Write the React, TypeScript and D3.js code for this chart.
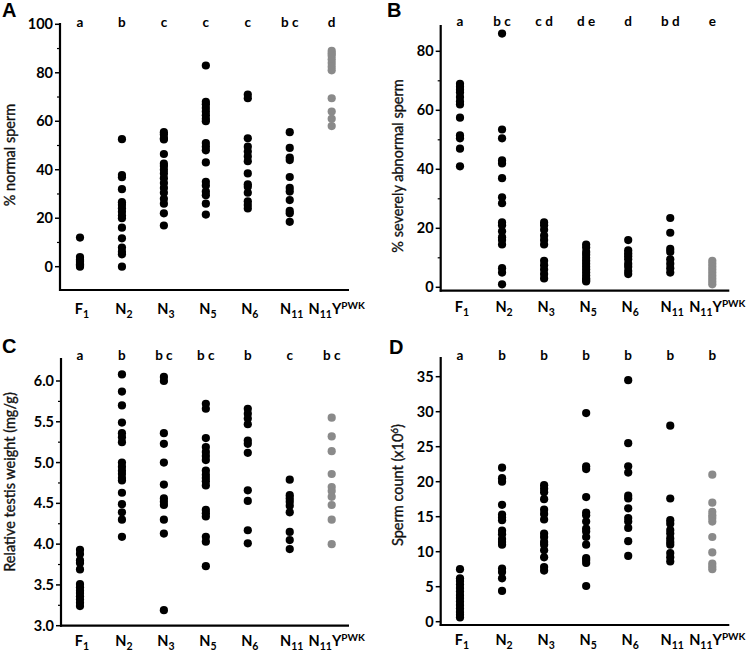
import React from "react";
import * as d3 from "d3";

// ---------- DATA ----------
const categories = ["F1", "N2", "N3", "N5", "N6", "N11", "N11YPWK"];
const catBase = ["F", "N", "N", "N", "N", "N", "N"];
const catSub = ["1", "2", "3", "5", "6", "11", "11"];
const catTail = ["", "", "", "", "", "", "Y"];
const catSup = ["", "", "", "", "", "", "PWK"];

const lettersA = ["a", "b", "c", "c", "c", "b c", "d"];
const lettersB = ["a", "b c", "c d", "d e", "d", "b d", "e"];
const lettersC = ["a", "b", "b c", "b c", "b", "c", "b c"];
const lettersD = ["a", "b", "b", "b", "b", "b", "b"];

const normalSperm = [
  [12, 4, 3, 2.5, 2, 1.5, 1, 0.5, 0],
  [52.6, 37.8, 36.9, 32, 26.6, 25.5, 24.1, 22.7, 21.1, 20, 16.1, 11.7, 7.9, 6.2, 5.1, 0],
  [55.5, 54.5, 53, 52.5, 46.5, 42.5, 41.5, 40, 38.5, 36.5, 34.5, 32.5, 30.5, 28, 26, 22, 17],
  [83, 68, 67, 65.5, 64, 62.5, 61, 60, 51, 49.5, 48, 43, 35, 33.5, 31, 29.5, 26, 21.5],
  [71, 69.5, 53, 49.5, 47.5, 45.5, 43.5, 38.5, 34, 33, 30.5, 27, 25.5, 24],
  [55.5, 49, 45, 44, 37, 32.5, 31, 27.5, 23, 22, 18.5],
  [89, 88, 87, 85.5, 84, 82.5, 81, 69.5, 64, 61, 58],
];

const abnormalSperm = [
  [69, 68, 67, 66, 64.5, 63, 62, 57.5, 51.5, 50.5, 47, 41],
  [86, 53.5, 50.5, 43, 42, 37, 30.5, 28.5, 22, 21, 19, 17, 16, 14.5, 6.5, 5, 1],
  [22, 21, 19.5, 17.5, 16, 14.5, 9, 7.5, 6, 4.5, 3],
  [14.5, 13.5, 12, 11, 10, 9, 8, 7, 6, 5, 4, 3, 2.5, 2],
  [16, 12.5, 11.5, 10.5, 9.5, 8, 7, 5.5, 4.5],
  [23.5, 18.5, 13, 12, 9.5, 8, 6.5, 5],
  [9, 8, 7, 6, 5, 4, 3, 2, 1],
];

const testisWeight = [
  [3.93, 3.88, 3.8, 3.77, 3.69, 3.51, 3.47, 3.43, 3.4, 3.36, 3.32, 3.28, 3.24],
  [6.08, 5.87, 5.7, 5.49, 5.36, 5.31, 5.25, 5.0, 4.95, 4.9, 4.86, 4.81, 4.78, 4.63, 4.49, 4.39, 4.3, 4.09],
  [6.05, 6.0, 5.36, 5.23, 5.0, 4.73, 4.56, 4.52, 4.48, 4.3, 4.13, 3.19],
  [5.72, 5.66, 5.3, 5.19, 5.13, 5.08, 5.03, 4.9, 4.85, 4.81, 4.77, 4.72, 4.42, 4.38, 4.34, 4.09, 4.03, 3.73],
  [5.66, 5.6, 5.54, 5.47, 5.27, 5.23, 5.12, 4.66, 4.53, 4.17, 4.01],
  [4.79, 4.6, 4.56, 4.52, 4.47, 4.39, 4.15, 4.05, 3.94],
  [5.55, 5.32, 5.14, 4.86, 4.7, 4.65, 4.58, 4.48, 4.3, 4.0],
];

const spermCount = [
  [7.5, 6.2, 5.8, 5.3, 4.8, 4.3, 3.8, 3.4, 2.9, 2.4, 1.9, 1.4, 1.0, 0.6],
  [22, 20.5, 20, 16.7, 15.3, 14.9, 14.5, 13, 12.5, 11.8, 11.4, 11, 7.6, 7.1, 6.2, 4.4],
  [19.5, 19, 18.5, 17.5, 16, 15.4, 14.6, 12.6, 12.1, 11.4, 11, 10.2, 9.2, 7.8, 7.3],
  [29.8, 22.2, 21.8, 17.8, 15.6, 15.2, 14.3, 13.3, 12.9, 12.1, 11, 9.1, 8.8, 8.4, 5.1],
  [34.5, 25.5, 22.2, 21.3, 18, 17.6, 16.2, 14.8, 14.3, 13.4, 11.5, 9.4],
  [28, 17.6, 14.5, 14, 13.1, 12.6, 11.9, 11.4, 11, 9.8, 9.2, 8.6],
  [21, 17, 15.7, 15.2, 14.8, 14.3, 12.1, 9.9, 8.3, 7.9, 7.5],
];

const ticksA = [0, 20, 40, 60, 80, 100];
const minorA = [10, 30, 50, 70, 90];
const ticksB = [0, 20, 40, 60, 80];
const minorB = [10, 30, 50, 70];
const ticksC = [3.0, 3.5, 4.0, 4.5, 5.0, 5.5, 6.0];
const minorC = [3.25, 3.75, 4.25, 4.75, 5.25, 5.75];
const ticksD = [0, 5, 10, 15, 20, 25, 30, 35];
const minorD: number[] = [];

// ---------- LAYOUT ----------
const FONT = "Lato, 'Open Sans', sans-serif";
const BLACK = "#000";
const GRAY = "#8a8a8a";

type Panel = {
  letter: string;
  letterX: number;
  letterY: number;
  data: number[][];
  sig: string[];
  ticks: number[];
  minor: number[];
  fmt: (d: number) => string;
  v0: number; p0: number; v1: number; p1: number;
  axisTop: number; axisBottom: number; axisLeft: number; axisRight: number;
  xFirst: number; xLast: number;
  sigY: number; catY: number;
  title: React.ReactNode; titleX: number; titleY: number;
};

const panels: Panel[] = [
  {
    letter: "A", letterX: 2, letterY: 17, data: normalSperm, sig: lettersA,
    ticks: ticksA, minor: minorA, fmt: (d) => String(d),
    v0: 0, p0: 266.7, v1: 100, p1: 24.3,
    axisTop: 23, axisBottom: 290, axisLeft: 60, axisRight: 349,
    xFirst: 80, xLast: 331.7, sigY: 27, catY: 313.5,
    title: "% normal sperm", titleX: 15, titleY: 155,
  },
  {
    letter: "B", letterX: 387, letterY: 17, data: abnormalSperm, sig: lettersB,
    ticks: ticksB, minor: minorB, fmt: (d) => String(d),
    v0: 0, p0: 287.3, v1: 80, p1: 51.3,
    axisTop: 25, axisBottom: 290.7, axisLeft: 440.7, axisRight: 729.3,
    xFirst: 460, xLast: 712.3, sigY: 26, catY: 312,
    title: "% severely abnormal sperm", titleX: 403, titleY: 166,
  },
  {
    letter: "C", letterX: 2, letterY: 353, data: testisWeight, sig: lettersC,
    ticks: ticksC, minor: minorC, fmt: (d) => d.toFixed(1),
    v0: 3, p0: 625.7, v1: 6, p1: 381,
    axisTop: 358, axisBottom: 625.7, axisLeft: 61, axisRight: 349,
    xFirst: 80, xLast: 331.7, sigY: 360, catY: 646,
    title: "Relative testis weight (mg/g)", titleX: 15, titleY: 482,
  },
  {
    letter: "D", letterX: 389, letterY: 353.5, data: spermCount, sig: lettersD,
    ticks: ticksD, minor: minorD, fmt: (d) => String(d),
    v0: 0, p0: 621.7, v1: 35, p1: 376.7,
    axisTop: 357, axisBottom: 625, axisLeft: 440.7, axisRight: 729.3,
    xFirst: 460, xLast: 712.3, sigY: 360, catY: 645,
    title: (
      <>
        Sperm count (x10
        <tspan fontSize={10} dy={-5}>6</tspan>
        <tspan dy={5}>)</tspan>
      </>
    ),
    titleX: 403, titleY: 485,
  },
];

function PanelView({ p }: { p: Panel }) {
  const x = d3.scalePoint<string>().domain(categories).range([p.xFirst, p.xLast]);
  const y = d3.scaleLinear().domain([p.v0, p.v1]).range([p.p0, p.p1]);
  return (
    <g>
      <text x={p.letterX} y={p.letterY} fontFamily="'Liberation Sans', Arial, sans-serif" fontWeight="bold" fontSize={20}>
        {p.letter}
      </text>
      {/* axes */}
      <line x1={p.axisLeft} x2={p.axisLeft} y1={p.axisTop} y2={p.axisBottom + 1} stroke={BLACK} strokeWidth={2.2} />
      <line x1={p.axisLeft - 1} x2={p.axisRight} y1={p.axisBottom} y2={p.axisBottom} stroke={BLACK} strokeWidth={2.2} />
      {p.ticks.map((t) => (
        <g key={"t" + t}>
          <line x1={p.axisLeft - 5} x2={p.axisLeft} y1={y(t)} y2={y(t)} stroke={BLACK} strokeWidth={1.5} />
          <text x={p.axisLeft - 7} y={y(t)} dy="0.35em" textAnchor="end" fontFamily={FONT} fontWeight="bold" fontSize={14.5}>
            {p.fmt(t)}
          </text>
        </g>
      ))}
      {p.minor.map((t) => (
        <line key={"m" + t} x1={p.axisLeft - 3} x2={p.axisLeft} y1={y(t)} y2={y(t)} stroke={BLACK} strokeWidth={1.2} />
      ))}
      {/* y title */}
      <text
        transform={`translate(${p.titleX},${p.titleY}) rotate(-90)`}
        textAnchor="middle"
        fontFamily={FONT}
        fontSize={14.5}
        stroke="#111"
        strokeWidth={0.35}
        fill="#111"
      >
        {p.title}
      </text>
      {/* significance letters */}
      {categories.map((c, i) => (
        <text key={"s" + c} x={x(c)} y={p.sigY} textAnchor="middle" fontFamily={FONT} fontWeight="bold" fontSize={13.5} style={{ whiteSpace: "pre" }}>
          {p.sig[i]}
        </text>
      ))}
      {/* category labels */}
      {categories.map((c, i) => (
        <text
          key={"c" + c}
          x={(x(c) as number) + (catSup[i] ? 5 : 2)}
          y={p.catY}
          textAnchor="middle"
          fontFamily={FONT}
          fontWeight="bold"
          fontSize={14.5}
        >
          {catBase[i]}
          <tspan fontSize={10.5} dy={4}>{catSub[i]}</tspan>
          {catTail[i] ? <tspan dy={-4}>{catTail[i]}</tspan> : null}
          {catSup[i] ? <tspan fontSize={10} dy={-5}>{catSup[i]}</tspan> : null}
        </text>
      ))}
      {/* dots */}
      {p.data.map((vals, i) =>
        vals.map((v, j) => (
          <circle
            key={`d${i}-${j}`}
            cx={x(categories[i])}
            cy={y(v)}
            r={4.1}
            fill={i === categories.length - 1 ? GRAY : BLACK}
          />
        ))
      )}
    </g>
  );
}

export default function App() {
  return (
    <svg width={747} height={654} style={{ position: "absolute", left: 0, top: 0, background: "#fff" }}>
      <rect width={747} height={654} fill="#fff" />
      {panels.map((p) => (
        <PanelView key={p.letter} p={p} />
      ))}
    </svg>
  );
}
